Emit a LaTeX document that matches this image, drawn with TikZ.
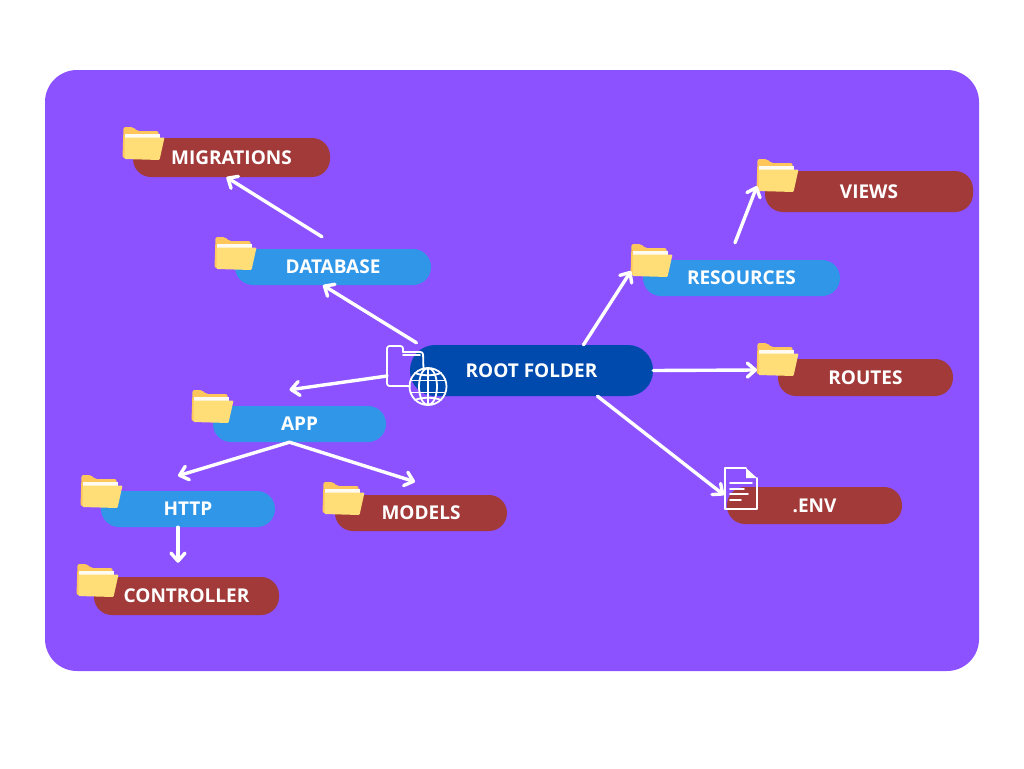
\documentclass[tikz,border=0pt]{standalone}
\usepackage{fontspec}
\setmainfont{Open Sans}
\usetikzlibrary{arrows.meta,positioning,calc}
\definecolor{bgpurple}{HTML}{8C52FF}
\definecolor{pillred}{HTML}{A33A3A}
\definecolor{pillblue}{HTML}{3097E8}
\definecolor{rootblue}{HTML}{004AAD}
\definecolor{foldback}{HTML}{FFC65C}
\definecolor{foldfront}{HTML}{FFDE78}

\tikzset{
  pill/.style={rounded corners=18, text=white, font=\bfseries\fontsize{19}{20}\selectfont, inner sep=0, text height=13.6, text depth=0, minimum height=36},
  redpill/.style={pill, fill=pillred},
  bluepill/.style={pill, fill=pillblue},
  link/.style={draw=white, line width=3.4, line cap=round, line join=round, -{Straight Barb[length=8,width=14,line width=3.4,round]}},
  thin white/.style={draw=white, line width=1.8, line cap=round, line join=round},
  folder/.pic={
    \fill[foldback, rounded corners=2] (1.5,0) -- (11,0) -- (15,4) -- (36.5,4) -- (37.5,31) -- (0.5,31) -- cycle;
    \fill[white!92!foldback] (2.5,6.5) -- (37.5,6.5) -- (37.5,14) -- (2.5,14) -- cycle;
    \fill[foldfront, rounded corners=1] (2.5,10.5) -- (42.5,10.5) -- (37.5,33) -- (2.5,32) -- cycle;
    \coordinate (-sw) at (1,27);
  },
  sitefile/.pic={
    \draw[thin white, rounded corners=2.5] (16,6) -- (16,0) -- (0,0) -- (0,40) -- (23,40);
    \draw[thin white, rounded corners=2.5] (16,6) -- (36,6) -- (36.5,24);
    \draw[thin white] (16,9) -- (33,9);
    \draw[thin white] (41,40.5) circle (18.5);
    \draw[thin white] (41,40.5) ellipse (9 and 18.5);
    \draw[thin white] (41,22) -- (41,59);
    \draw[thin white] (24,34.5) -- (58,34.5) (24,46.5) -- (58,46.5);
    \draw[thin white] (28,27) .. controls (35,30) and (47,30) .. (54,27);
    \draw[thin white] (28,54) .. controls (35,51) and (47,51) .. (54,54);
    \coordinate (-w) at (0,30);
  },
  envfile/.pic={
    \draw[thin white] (21,0) -- (0,0) -- (0,41) -- (32,41) -- (32,10);
    \fill[white] (21,0) -- (32,10) -- (21,10) -- cycle;
    \draw[thin white] (5,15) -- (27,15) (5,21) -- (19,21) (5,26) -- (23,26) (5,32) -- (16,32);
    \coordinate (-w) at (-1,27);
  }
}

\begin{document}
\begin{tikzpicture}[x=1pt,y=-1pt]
  \useasboundingbox (0,0) rectangle (1024,768);
  \fill[bgpurple, rounded corners=32] (45,70) rectangle (979,671);
  % tree nodes
  \node[redpill, minimum width=197, minimum height=39] (migrations) at (231.5,157.5) {MIGRATIONS};
  \node[bluepill, minimum width=196] (database) at (333,267) {DATABASE};
  \node[pill, fill=rootblue, minimum width=243, minimum height=51, rounded corners=25] (root) at (531.5,370.5) {ROOT FOLDER};
  \node[bluepill, minimum width=173] (app) at (299.5,424) {APP};
  \node[bluepill, minimum width=174] (http) at (188,509) {HTTP};
  \node[redpill, minimum width=172] (models) at (421,513) {MODELS};
  \node[redpill, minimum width=185, minimum height=38] (controller) at (186.5,596) {CONTROLLER};
  \node[redpill, minimum width=208, minimum height=41] (views) at (869,191.5) {VIEWS};
  \node[bluepill, minimum width=197] (resources) at (741.5,278) {RESOURCES};
  \node[redpill, minimum width=175, minimum height=37] (routes) at (865.5,377.5) {ROUTES};
  \node[redpill, minimum width=175, minimum height=37] (env) at (814.5,505.5) {.ENV};
  % icons
  \pic (migicon) at (122,127) {folder};
  \pic (dbicon) at (214,237) {folder};
  \pic (appicon) at (191,390) {folder};
  \pic (httpicon) at (80,475) {folder};
  \pic (modelsicon) at (322,482) {folder};
  \pic (ctrlicon) at (76,564) {folder};
  \pic (viewsicon) at (756,159) {folder};
  \pic (resicon) at (630,244) {folder};
  \pic (routesicon) at (756,343) {folder};
  \pic (rooticon) at (387,346) {sitefile};
  \pic (envicon) at (725,468) {envfile};
  % arrows
  \draw[link] ([xshift=-115,yshift=2]root.north) -- ([xshift=-10]database.south);
  \draw[link] ([xshift=-11,yshift=12]database.north) -- ([xshift=-5]migrations.south);
  \draw[link] (rooticon-w) -- ([xshift=-10,yshift=16]app.north);
  \draw[link] ([xshift=-10]app.south) -- ([xshift=-10,yshift=15]http.north);
  \draw[link] ([xshift=-10]app.south) -- ([xshift=-6,yshift=13]models.north);
  \draw[link] ([xshift=-10]http.south) -- ([xshift=-8.5,yshift=14]controller.north);
  \draw[link] ([xshift=52]root.north) -- (resicon-sw);
  \draw[link] ([xshift=-6.5,yshift=17]resources.north) -- (viewsicon-sw);
  \draw[link] (root.east) -- (routesicon-sw);
  \draw[link] ([xshift=66]root.south) -- (envicon-w);
\end{tikzpicture}
\end{document}
